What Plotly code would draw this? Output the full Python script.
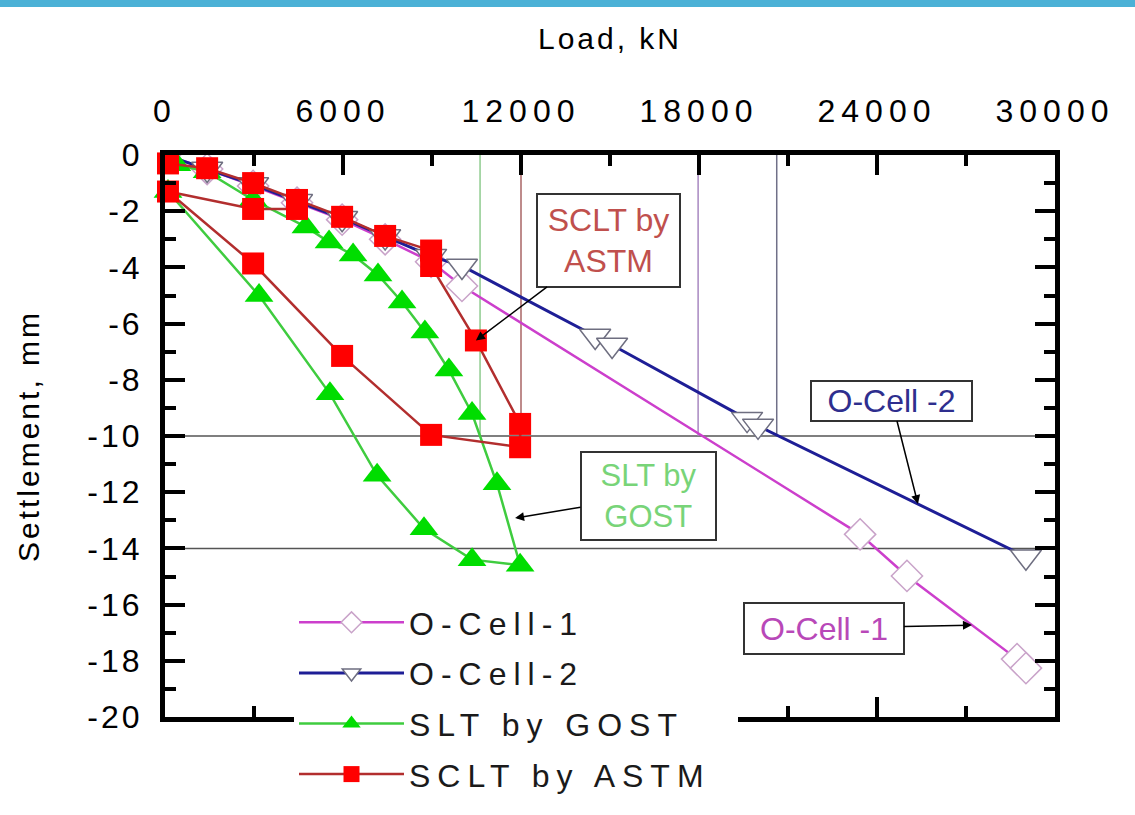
import plotly.graph_objects as go

# ---------------- data ----------------
load_ticks = [0, 6000, 12000, 18000, 24000, 30000]
load_tick_labels = ["0", "6000", "12000", "18000", "24000", "30000"]
settle_ticks = [0, -2, -4, -6, -8, -10, -12, -14, -16, -18, -20]
settle_tick_labels = ["0", "-2", "-4", "-6", "-8", "-10", "-12", "-14", "-16", "-18", "-20"]

ocell1_load = [0, 1420, 2970, 4450, 5970, 7420, 8970, 10010, 23430, 25010, 28720, 29020]
ocell1_settle = [0, -0.5, -1.1, -1.7, -2.3, -3.0, -3.8, -4.66, -13.5, -14.98, -17.94, -18.26]

ocell2_load = [0, 1420, 2970, 4450, 5970, 7420, 8970, 10010, 14500, 15070, 19620, 19990, 29020]
ocell2_settle = [0, -0.5, -1.05, -1.65, -2.25, -2.9, -3.6, -3.95, -6.44, -6.76, -9.4, -9.64, -14.3]

gost_load = [400, 1420, 2970, 4750, 5530, 6340, 7180, 7990, 8760, 9570, 10350, 11190, 11970,
             10350, 8730, 7150, 5560, 3170, 100]
gost_settle = [-0.35, -0.6, -1.6, -2.56, -3.1, -3.56, -4.27, -5.23, -6.3, -7.65, -9.2, -11.7, -14.6,
               -14.4, -13.3, -11.4, -8.5, -5.0, -1.3]

astm_load = [100, 1420, 2970, 4450, 5970, 7420, 8970, 8970, 10480, 11970, 11970, 8970, 5970,
             2970, 100, 2970, 4450]
astm_settle = [-0.3, -0.47, -1.0, -1.6, -2.2, -2.88, -3.4, -3.95, -6.6, -9.57, -10.4, -9.96, -7.15,
               -3.86, -1.3, -1.92, -1.92]

# loads at which each curve reaches the 10 mm criterion
criterion_loads = [10620, 12000, 17970, 20620]
criterion_settlement = -10
horizontal_levels = [-10, -14]

# ---------------- layout geometry ----------------
W, H = 1135, 815
ML, MR, MT, MB = 165, 80, 155, 98
PW, PH = W - ML - MR, H - MT - MB
FONT = "Arial, Liberation Sans, sans-serif"


def px_to_paper_x(p):
    return (p - ML) / PW


def px_to_paper_y(p):
    return (H - MB - p) / PH


fig = go.Figure()

fig.add_trace(go.Scatter(
    x=ocell1_load, y=ocell1_settle, name="O-Cell-1", mode="lines+markers",
    line=dict(color="#CC3FCC", width=2.5),
    marker=dict(symbol="diamond", size=24, color="white", line=dict(color="#C9A3C9", width=1.5)),
    legendgroup="g1"))
fig.add_trace(go.Scatter(
    x=ocell2_load, y=ocell2_settle, name="O-Cell-2", mode="lines+markers",
    line=dict(color="#1E1E96", width=3),
    marker=dict(symbol="triangle-down", size=27, color="white", line=dict(color="#6E6E80", width=1.5)),
    legendgroup="g2"))
fig.add_trace(go.Scatter(
    x=gost_load, y=gost_settle, name="SLT by GOST", mode="lines+markers",
    line=dict(color="#3FCC3F", width=2.5),
    marker=dict(symbol="triangle-up", size=25, color="#00DD00", line=dict(width=0)),
    cliponaxis=False, legendgroup="g3"))
fig.add_trace(go.Scatter(
    x=astm_load, y=astm_settle, name="SCLT by ASTM", mode="lines+markers",
    line=dict(color="#B22E2E", width=2.5),
    marker=dict(symbol="square", size=22, color="#FF0000", line=dict(width=0)),
    cliponaxis=False, legendgroup="g4"))

shapes = []
for lvl in horizontal_levels:
    shapes.append(dict(type="line", xref="x domain", yref="y", x0=0, x1=1, y0=lvl, y1=lvl,
                       line=dict(color="#555555", width=1.5), layer="below"))
crit_colors = ["#8FCB8F", "#A86565", "#A888C0", "#707088"]
for xl, c in zip(criterion_loads, crit_colors):
    shapes.append(dict(type="line", xref="x", yref="y", x0=xl, x1=xl, y0=0, y1=criterion_settlement,
                       line=dict(color=c, width=1.5), layer="below"))
# slide header band at the top of the picture
shapes.append(dict(type="rect", xref="paper", yref="paper",
                   x0=px_to_paper_x(0), x1=px_to_paper_x(W), y0=px_to_paper_y(7), y1=px_to_paper_y(0),
                   fillcolor="#4BB1D6", line=dict(width=0), layer="above"))

ann_common = dict(xref="x", yref="y", axref="pixel", ayref="pixel", showarrow=True,
                  arrowhead=2, arrowsize=1.2, arrowwidth=1.5, arrowcolor="black",
                  bgcolor="white", bordercolor="#333333", borderwidth=2)
annotations = [
    dict(x=astm_load[8], y=astm_settle[8], ax=133, ay=-100, text="SCLT by<br>ASTM",
         font=dict(family=FONT, size=32, color="#C0504D"), width=135, height=85, borderpad=3, **ann_common),
    dict(x=25380, y=-12.42, ax=-26, ay=-103, text="O-Cell -2",
         font=dict(family=FONT, size=32, color="#2E2E8E"), width=157, borderpad=1, **ann_common),
    dict(x=27200, y=-16.73, ax=-148, ay=3, text="O-Cell -1",
         font=dict(family=FONT, size=32, color="#B848B8"), width=156, height=47, borderpad=1, **ann_common),
    dict(x=11800, y=-12.92, ax=133, ay=-22, text="SLT by<br>GOST",
         font=dict(family=FONT, size=31, color="#78D478"), width=127, height=80, borderpad=3, **ann_common),
]

axis_common = dict(showline=True, linewidth=5, linecolor="black", mirror="allticks",
                   ticks="inside", ticklen=20, tickwidth=4, tickcolor="black",
                   showgrid=False, zeroline=False, automargin=False,
                   tickfont=dict(family=FONT, size=32, color="black"))

fig.update_xaxes(range=[0, 30000], side="top", tickmode="array", tickvals=load_ticks,
                 ticktext=load_tick_labels, ticklabelstandoff=15,
                 minor=dict(dtick=3000, ticks="inside", ticklen=11, tickwidth=4, tickcolor="black"),
                 title=dict(text="Load, kN", font=dict(family=FONT, size=30, color="black"), standoff=36),
                 **axis_common)
fig.update_yaxes(range=[-20, 0], tickmode="array", tickvals=settle_ticks,
                 ticktext=settle_tick_labels, ticklabelstandoff=11,
                 minor=dict(dtick=1, ticks="inside", ticklen=11, tickwidth=4, tickcolor="black"),
                 title=dict(text="Settlement, mm", font=dict(family=FONT, size=30, color="black"), standoff=49),
                 **axis_common)

fig.update_layout(
    width=W, height=H, margin=dict(l=ML, r=MR, t=MT, b=MB, pad=0),
    paper_bgcolor="white", plot_bgcolor="white",
    shapes=shapes, annotations=annotations,
    showlegend=True,
    legend=dict(x=px_to_paper_x(294), y=px_to_paper_y(595), xanchor="left", yanchor="top",
                bgcolor="white", borderwidth=0, itemwidth=105, tracegroupgap=6,
                traceorder="grouped",
                font=dict(family=FONT, size=32, color="#1A1A1A")),
)

# Origin-style letter spacing for tick labels, titles and legend; widen the legend box to fit it
letter_spacing_css = """
var st = document.createElement('style');
st.textContent = '.legendtext{letter-spacing:7px}' +
  '.xtick text{letter-spacing:6px}.ytick text{letter-spacing:3px}' +
  '.g-xtitle text,.g-ytitle text{letter-spacing:3px}' +
  '.legend .scrollbox{clip-path:none !important}' +
  '.legend rect.bg{width:444px !important}';
document.head.appendChild(st);
"""

fig.write_html("out.html", post_script=letter_spacing_css)
